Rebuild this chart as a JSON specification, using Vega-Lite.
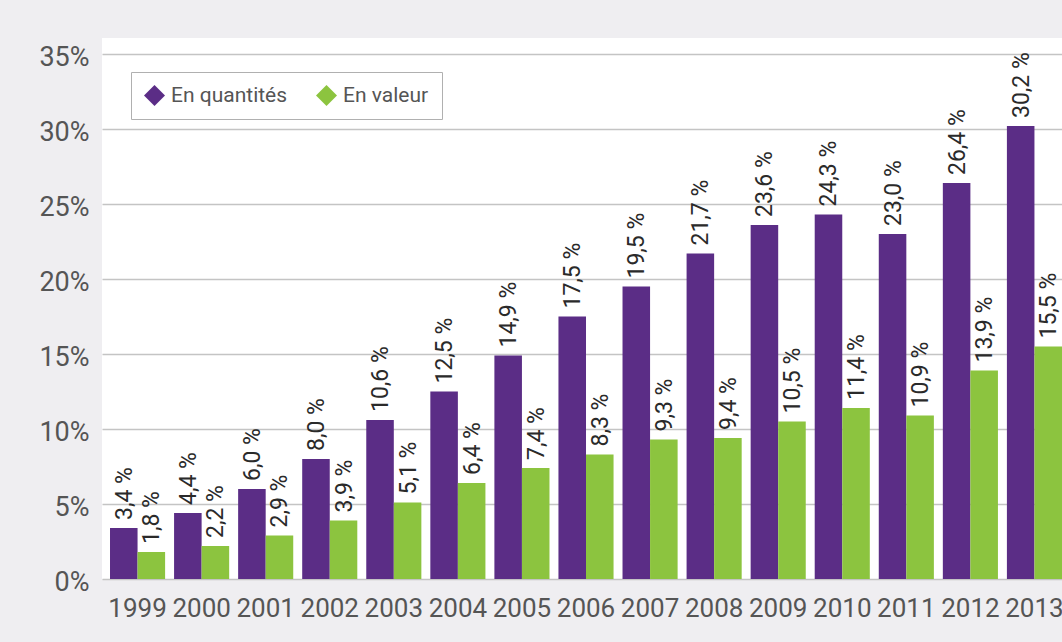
{
  "$schema": "https://vega.github.io/schema/vega-lite/v6.json",
  "width": 960,
  "height": 541,
  "autosize": {"type": "none"},
  "padding": {"left": 102, "top": 38, "right": 0, "bottom": 63},
  "background": "#efeef1",
  "view": {"fill": "white", "stroke": null},
  "data": {
    "values": [
      {"annee": "1999", "serie": "En quantités", "v": 3.4, "lab": "3,4 %"},
      {"annee": "1999", "serie": "En valeur", "v": 1.8, "lab": "1,8 %"},
      {"annee": "2000", "serie": "En quantités", "v": 4.4, "lab": "4,4 %"},
      {"annee": "2000", "serie": "En valeur", "v": 2.2, "lab": "2,2 %"},
      {"annee": "2001", "serie": "En quantités", "v": 6.0, "lab": "6,0 %"},
      {"annee": "2001", "serie": "En valeur", "v": 2.9, "lab": "2,9 %"},
      {"annee": "2002", "serie": "En quantités", "v": 8.0, "lab": "8,0 %"},
      {"annee": "2002", "serie": "En valeur", "v": 3.9, "lab": "3,9 %"},
      {"annee": "2003", "serie": "En quantités", "v": 10.6, "lab": "10,6 %"},
      {"annee": "2003", "serie": "En valeur", "v": 5.1, "lab": "5,1 %"},
      {"annee": "2004", "serie": "En quantités", "v": 12.5, "lab": "12,5 %"},
      {"annee": "2004", "serie": "En valeur", "v": 6.4, "lab": "6,4 %"},
      {"annee": "2005", "serie": "En quantités", "v": 14.9, "lab": "14,9 %"},
      {"annee": "2005", "serie": "En valeur", "v": 7.4, "lab": "7,4 %"},
      {"annee": "2006", "serie": "En quantités", "v": 17.5, "lab": "17,5 %"},
      {"annee": "2006", "serie": "En valeur", "v": 8.3, "lab": "8,3 %"},
      {"annee": "2007", "serie": "En quantités", "v": 19.5, "lab": "19,5 %"},
      {"annee": "2007", "serie": "En valeur", "v": 9.3, "lab": "9,3 %"},
      {"annee": "2008", "serie": "En quantités", "v": 21.7, "lab": "21,7 %"},
      {"annee": "2008", "serie": "En valeur", "v": 9.4, "lab": "9,4 %"},
      {"annee": "2009", "serie": "En quantités", "v": 23.6, "lab": "23,6 %"},
      {"annee": "2009", "serie": "En valeur", "v": 10.5, "lab": "10,5 %"},
      {"annee": "2010", "serie": "En quantités", "v": 24.3, "lab": "24,3 %"},
      {"annee": "2010", "serie": "En valeur", "v": 11.4, "lab": "11,4 %"},
      {"annee": "2011", "serie": "En quantités", "v": 23.0, "lab": "23,0 %"},
      {"annee": "2011", "serie": "En valeur", "v": 10.9, "lab": "10,9 %"},
      {"annee": "2012", "serie": "En quantités", "v": 26.4, "lab": "26,4 %"},
      {"annee": "2012", "serie": "En valeur", "v": 13.9, "lab": "13,9 %"},
      {"annee": "2013", "serie": "En quantités", "v": 30.2, "lab": "30,2 %"},
      {"annee": "2013", "serie": "En valeur", "v": 15.5, "lab": "15,5 %"}
    ]
  },
  "encoding": {
    "x": {
      "field": "annee", "type": "nominal",
      "scale": {"paddingInner": 0.14, "paddingOuter": 0.0625, "align": 1},
      "axis": {
        "title": null, "labelAngle": 0, "domain": false, "ticks": false,
        "labelFont": "Roboto", "labelFontSize": 26, "labelColor": "#555555",
        "labelPadding": 16, "grid": false, "labelOverlap": false
      }
    },
    "xOffset": {"field": "serie", "type": "nominal", "sort": ["En quantités", "En valeur"]},
    "y": {
      "field": "v", "type": "quantitative",
      "scale": {"domain": [0, 36.07], "nice": false, "zero": true},
      "axis": {
        "title": null, "values": [0, 5, 10, 15, 20, 25, 30, 35],
        "labelExpr": "datum.value + '%'",
        "domain": false, "ticks": false,
        "labelFont": "Roboto", "labelFontSize": 27, "labelColor": "#555555",
        "labelPadding": 13, "labelOffset": 3,
        "grid": true, "gridColor": "#c4c4c4", "gridWidth": 1.5
      }
    }
  },
  "layer": [
    {
      "mark": {"type": "bar"},
      "encoding": {
        "color": {
          "field": "serie", "type": "nominal",
          "scale": {"domain": ["En quantités", "En valeur"], "range": ["#5b2d86", "#8cc43f"]},
          "legend": {
            "title": null, "orient": "none", "legendX": 29, "legendY": 34,
            "direction": "horizontal", "symbolType": "diamond", "symbolSize": 440,
            "symbolStrokeWidth": 0, "symbolOpacity": 1,
            "labelFont": "Roboto", "labelFontSize": 21, "labelColor": "#555555",
            "labelOffset": 6, "columnPadding": 28,
            "padding": 13, "strokeColor": "#b0b0b0", "fillColor": "white"
          }
        }
      }
    },
    {
      "mark": {
        "type": "text", "angle": -90, "align": "left", "baseline": "middle",
        "dx": 8, "dy": 1, "font": "Roboto", "fontSize": 23, "color": "#2a2a2a"
      },
      "encoding": {
        "text": {"field": "lab"}
      }
    }
  ]
}
